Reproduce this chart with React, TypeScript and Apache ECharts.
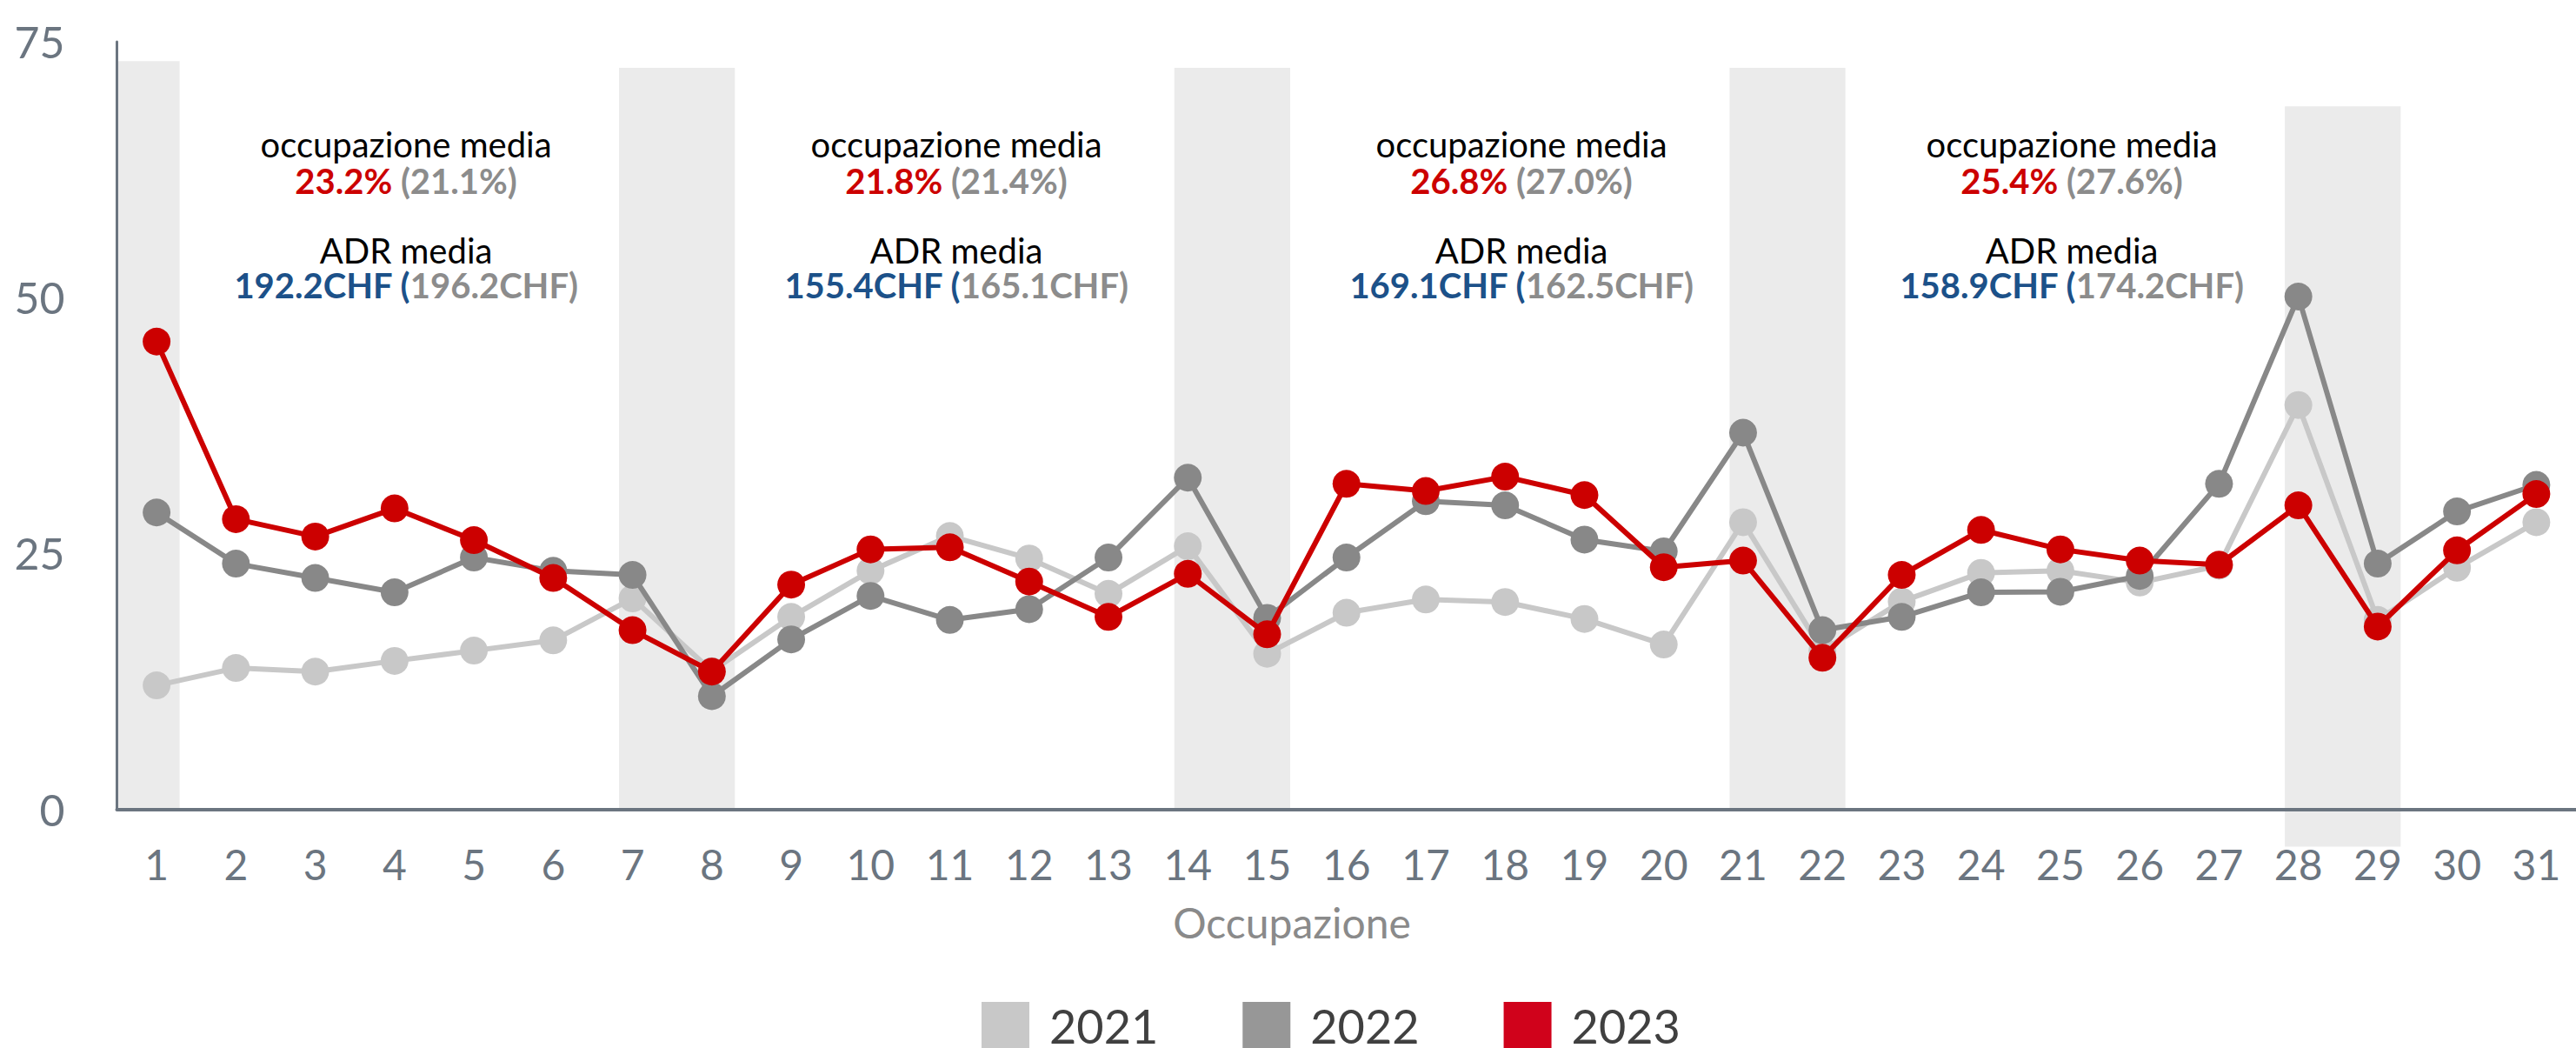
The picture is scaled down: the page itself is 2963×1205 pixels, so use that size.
import React, { useEffect, useRef } from 'react';
import * as echarts from 'echarts';

// ---------- data ----------
const days = ['1', '2', '3', '4', '5', '6', '7', '8', '9', '10', '11', '12', '13', '14', '15', '16',
  '17', '18', '19', '20', '21', '22', '23', '24', '25', '26', '27', '28', '29', '30', '31'];

const seriesNames = ['2021', '2022', '2023'];

const occ2021 = [12.1, 13.8, 13.45, 14.5, 15.5, 16.5, 20.6, 13.5, 18.8, 23.3, 26.7, 24.5, 21.05, 25.7, 15.2, 19.2,
  20.5, 20.25, 18.6, 16.1, 28.05, 15.5, 20.3, 23.1, 23.3, 22.15, 23.8, 39.5, 18.5, 23.6, 28.05];
const occ2022 = [29.0, 24.0, 22.6, 21.2, 24.6, 23.3, 22.9, 11.05, 16.6, 20.85, 18.5, 19.55, 24.6, 32.4, 18.7, 24.6,
  30.1, 29.7, 26.35, 25.2, 36.8, 17.5, 18.8, 21.2, 21.25, 22.8, 31.8, 50.1, 24.0, 29.1, 31.7];
const occ2023 = [45.7, 28.35, 26.65, 29.4, 26.3, 22.6, 17.5, 13.45, 21.95, 25.4, 25.6, 22.25, 18.8, 23.0, 17.1, 31.8,
  31.1, 32.5, 30.7, 23.65, 24.3, 14.8, 22.9, 27.3, 25.4, 24.3, 23.9, 29.7, 17.85, 25.3, 30.8];

const yTicks = [0, 25, 50, 75];

// weekend shading: category index of Saturday / Sunday (-1 = before the month)
const weekendSat = [-1, 6, 13, 20, 27];
const weekendSun = [0, 7, 14, 21, 28];
const weekendTop = [73.1, 72.45, 72.45, 72.45, 68.7];
const weekendBottom = [0, 0, 0, 0, -3.65];

const occTitle = 'occupazione media';
const adrTitle = 'ADR media';
const occCur = ['23.2%', '21.8%', '26.8%', '25.4%'];
const occPrev = ['21.1%', '21.4%', '27.0%', '27.6%'];
const adrCur = ['192.2CHF', '155.4CHF', '169.1CHF', '158.9CHF'];
const adrPrev = ['196.2CHF', '165.1CHF', '162.5CHF', '174.2CHF'];

const axisName = 'Occupazione';

// ---------- layout / style ----------
const W = 2963;
const H = 1205;
const FONT = 'Lato, "Noto Sans", sans-serif';
const lineColors = ['#c8c8c8', '#888888', '#cc0000'];
const legendColors = ['#c8c8c8', '#979797', '#d0021b'];
const axisColor = '#6b7580';
const blockX = [467, 1100, 1750, 2383];
const blockLineY = [166, 208, 288, 328];
const ANN = 40;

function textEl(x: number, y: number, text: string, rich: any, fill: string) {
  return {
    type: 'text',
    x,
    y,
    silent: true,
    style: {
      text,
      fill,
      fontSize: ANN,
      lineHeight: 38,
      fontFamily: FONT,
      align: 'center',
      verticalAlign: 'middle',
      textAlign: 'center',
      textVerticalAlign: 'middle',
      rich,
    },
  };
}

const richStyles = {
  r: { fill: '#cc0000', color: '#cc0000', fontWeight: 'bold', fontSize: ANN, lineHeight: 38, fontFamily: FONT },
  g: { fill: '#8c8c8c', color: '#8c8c8c', fontWeight: 'bold', fontSize: ANN, lineHeight: 38, fontFamily: FONT },
  b: { fill: '#1c5189', color: '#1c5189', fontWeight: 'bold', fontSize: ANN, lineHeight: 38, fontFamily: FONT },
};

export default function App() {
  const ref = useRef<HTMLDivElement>(null);

  useEffect(() => {
    if (!ref.current) return;
    const chart = echarts.init(ref.current, null, { renderer: 'svg' });

    const shadeData = weekendSun.map((sun, i) => [sun, weekendSat[i], weekendTop[i], weekendBottom[i]]);
    const seriesData = [occ2021, occ2022, occ2023];

    const graphics: any[] = [];
    blockX.forEach((x, i) => {
      graphics.push(textEl(x, blockLineY[0], occTitle, undefined, '#000000'));
      graphics.push(textEl(x, blockLineY[1], `{r|${occCur[i]}}{g| (${occPrev[i]})}`, richStyles, '#8c8c8c'));
      graphics.push(textEl(x, blockLineY[2], adrTitle, undefined, '#000000'));
      graphics.push(textEl(x, blockLineY[3], `{b|${adrCur[i]} (}{g|${adrPrev[i]})}`, richStyles, '#8c8c8c'));
    });
    graphics.push({
      type: 'text',
      x: 1486,
      y: 1060,
      silent: true,
      style: {
        text: axisName,
        fill: '#8a8a8a',
        fontSize: 48,
        fontFamily: FONT,
        align: 'center',
        verticalAlign: 'middle',
        textAlign: 'center',
        textVerticalAlign: 'middle',
      },
    });

    chart.setOption({
      animation: false,
      backgroundColor: '#ffffff',
      grid: { left: 134.5, top: 48, width: 2836, bottom: 274.5, containLabel: false },
      xAxis: {
        type: 'category',
        data: days,
        boundaryGap: true,
        axisLine: { show: true, lineStyle: { color: axisColor, width: 4 } },
        axisTick: { show: false },
        axisLabel: { color: axisColor, fontSize: 48, fontFamily: FONT, margin: 39, interval: 0 },
        splitLine: { show: false },
      },
      yAxis: {
        type: 'value',
        min: yTicks[0],
        max: yTicks[yTicks.length - 1],
        interval: yTicks[1] - yTicks[0],
        axisLine: { show: true, lineStyle: { color: axisColor, width: 3 } },
        axisTick: { show: false },
        axisLabel: { color: axisColor, fontSize: 50, fontFamily: FONT, margin: 60 },
        splitLine: { show: false },
      },
      legend: {
        show: true,
        left: 1124,
        top: 1147,
        orient: 'horizontal',
        icon: 'rect',
        itemWidth: 55,
        itemHeight: 55,
        itemGap: 97,
        itemStyle: { borderWidth: 0 },
        textStyle: { fontSize: 54, lineHeight: 46, color: '#404040', fontFamily: FONT, padding: [0, 0, 0, 18] },
        data: seriesNames.map((n, i) => ({ name: n, itemStyle: { color: legendColors[i], borderWidth: 0 } })),
      },
      graphic: { elements: graphics },
      series: [
        {
          type: 'custom',
          name: 'weekend',
          silent: true,
          z: 0,
          encode: { x: 0, y: 2 },
          data: shadeData,
          renderItem: (params: any, api: any) => {
            const sun = api.value(0);
            const sat = api.value(1);
            const top = api.value(2);
            const bottom = api.value(3);
            const bw = api.size([1, 0])[0];
            const cs = params.coordSys;
            const right = api.coord([sun, 0])[0] + 0.29 * bw;
            const left = sat < 0 ? cs.x : api.coord([sat, 0])[0] - 0.17 * bw;
            const yTop = api.coord([sun, top])[1];
            const yBot = api.coord([sun, bottom])[1];
            return {
              type: 'rect',
              shape: { x: left, y: yTop, width: right - left, height: yBot - yTop },
              style: { fill: '#ebebeb' },
            };
          },
        },
        ...seriesNames.map((n, i) => ({
          type: 'line',
          name: n,
          data: seriesData[i],
          z: 3 + i,
          symbol: 'circle',
          symbolSize: 32,
          showSymbol: true,
          lineStyle: { color: lineColors[i], width: 6 },
          itemStyle: { color: lineColors[i], borderWidth: 0 },
          emphasis: { disabled: true },
        })),
      ],
    });

    return () => chart.dispose();
  }, []);

  return (
    <div
      ref={ref}
      style={{ position: 'absolute', left: 0, top: 0, width: W, height: H, background: '#fff' }}
    />
  );
}
